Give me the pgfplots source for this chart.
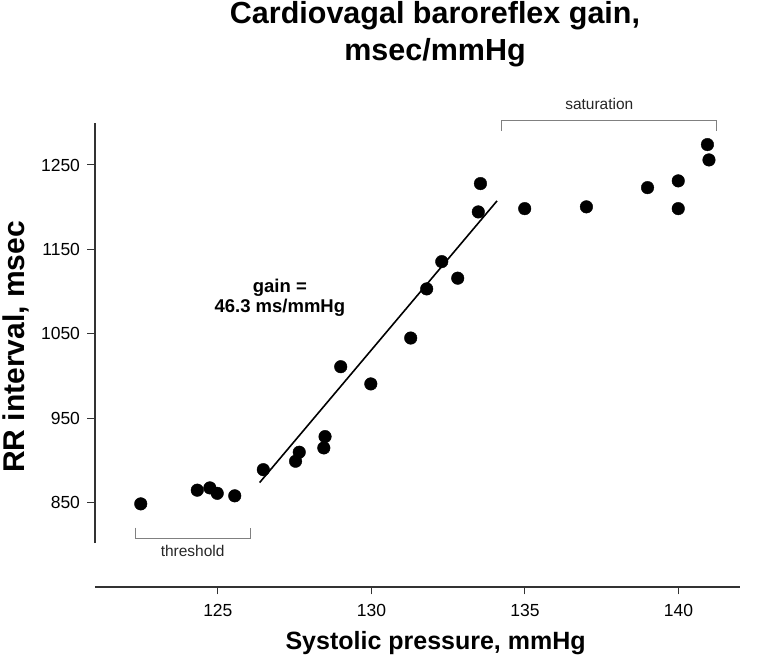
\documentclass[border=0pt]{standalone}
\usepackage{fontspec}
\setmainfont{Liberation Sans}
\usepackage{pgfplots}
\pgfplotsset{compat=1.18}
\begin{document}
\begin{tikzpicture}
\begin{axis}[
  scale only axis, width=645bp, height=464.2bp,
  xmin=121, xmax=142, ymin=750, ymax=1300,
  axis x line=bottom, axis y line=left,
  axis line style={draw=none},
  xtick={125,130,135,140}, ytick={850,950,1050,1150,1250},
  tick align=outside, major tick length=7.5bp,
  tick style={black!80, line width=1bp},
  ticklabel style={font=\fontsize{17.5bp}{20bp}\selectfont},
  xticklabel style={yshift=-6bp},
  yticklabel style={xshift=-4bp},
  /pgf/number format/assume math mode=true,
  /pgf/number format/1000 sep={},
  clip=false,
]
\addplot[only marks, mark=*, mark size=6.3bp, black] coordinates {
(122.49,848.5) (124.33,864.7) (124.74,867.4) (124.98,861) (125.55,858)
(126.48,889) (127.53,899) (127.65,909.7) (128.45,914.8) (128.49,928.2)
(129.0,1011) (129.98,990.6) (131.28,1045) (131.80,1103.2) (132.29,1135.5)
(132.81,1115.9) (133.48,1194.4) (133.55,1228) (134.99,1198.3) (137.0,1200.4)
(138.99,1223.2) (139.99,1231.2) (139.99,1198.3) (140.94,1274.2) (140.99,1256)
};
\addplot[black, line width=1.6bp] coordinates {(126.36,873.7) (134.09,1207.5)};
% axis lines
\draw[black!80, line width=1.2bp] (axis cs:121,750) -- (axis cs:142,750);
\draw[black!80, line width=1.2bp] (axis cs:121,802) -- (axis cs:121,1300);
% brackets
\draw[gray, line width=1bp] (axis cs:122.32,820.4) -- (axis cs:122.32,807.8) -- (axis cs:126.06,807.8) -- (axis cs:126.06,820.4);
\draw[gray, line width=1bp] (axis cs:134.22,1290.4) -- (axis cs:134.22,1302.6) -- (axis cs:141.23,1302.6) -- (axis cs:141.23,1290.4);
\node[anchor=base, text=black!85, font=\fontsize{15.5bp}{18bp}\selectfont, inner sep=0] at (axis cs:124.18,786.7) {threshold};
\node[anchor=base, text=black!85, font=\fontsize{15.5bp}{18bp}\selectfont, inner sep=0] at (axis cs:137.42,1316) {saturation};
\node[anchor=base, font=\bfseries\fontsize{18.5bp}{20bp}\selectfont, inner sep=0] at (axis cs:127.02,1099.5) {gain =};
\node[anchor=base, font=\bfseries\fontsize{18.5bp}{20bp}\selectfont, inner sep=0] at (axis cs:127.02,1075.8) {46.3 ms/mmHg};
% title and labels
\node[anchor=base, font=\bfseries\fontsize{30.5bp}{34bp}\selectfont, inner sep=0] at (axis cs:132.07,1418.2) {Cardiovagal baroreflex gain,};
\node[anchor=base, font=\bfseries\fontsize{30.5bp}{34bp}\selectfont, inner sep=0] at (axis cs:132.07,1374.4) {msec/mmHg};
\node[anchor=base, font=\bfseries\fontsize{25bp}{28bp}\selectfont, inner sep=0] at (axis cs:132.09,675.4) {Systolic pressure, mmHg};
\node[anchor=base, rotate=90, font=\bfseries\fontsize{30bp}{34bp}\selectfont, inner sep=0] at (axis cs:118.72,1034.4) {RR interval, msec};
\coordinate (bl) at (axis cs:117.907,657.6);
\coordinate (tr) at (axis cs:142.977,1445.5);
\end{axis}
\pgfresetboundingbox
\path[use as bounding box] (bl) rectangle (tr);
\end{tikzpicture}
\end{document}
